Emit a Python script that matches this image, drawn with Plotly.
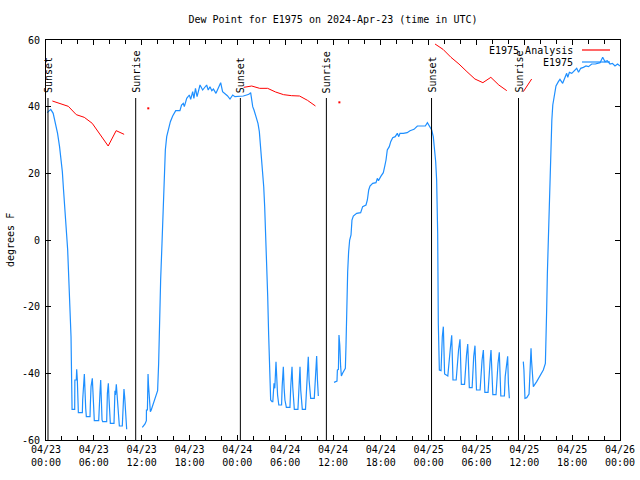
import plotly.graph_objects as go
import pandas as pd

BASE = pd.Timestamp("2024-04-23 00:00")

# ---------------- data (hours after 2024-04-23 00:00 UTC, deg F) ----------------
blue1_h = [0.15, 0.35, 0.6, 0.9, 1.2, 1.45, 1.7, 1.88, 2.05, 2.2, 2.38, 2.55, 2.72, 2.88, 3.05, 3.14,
           3.22, 3.27, 3.6, 3.62, 3.8, 3.85, 3.93, 4.0, 4.06, 4.56, 4.6, 4.81, 4.9, 4.98, 5.06, 5.52,
           5.56, 5.65, 5.81, 5.9, 5.98, 6.06, 6.61, 6.65, 6.78, 6.86, 6.95, 7.03, 7.11, 7.61, 7.7, 7.82,
           7.9, 8.0, 8.07, 8.53, 8.65, 8.72, 8.82, 8.9, 9.0, 9.1, 9.2, 9.57, 9.68, 9.78, 9.88, 9.98,
           10.05, 10.12]
blue1_v = [38.2, 38.8, 39.2, 38.0, 35.0, 32.0, 28.0, 24.0, 20.5, 15.0, 9.0, 3.0, -3.0, -13.0, -24.0, -29.0,
           -43.0, -50.8, -50.8, -42.0, -42.0, -38.8, -42.0, -48.5, -51.8, -51.8, -48.0, -40.2, -48.0, -50.5, -53.0, -53.0,
           -49.5, -44.0, -41.5, -48.5, -53.7, -54.2, -54.2, -50.5, -45.3, -42.0, -50.0, -54.0, -54.5, -54.5, -46.0, -43.0,
           -47.5, -51.8, -55.0, -55.0, -45.2, -46.5, -43.3, -46.5, -51.3, -53.0, -55.8, -55.8, -47.7, -44.7, -47.5, -53.8,
           -53.8, -56.8]

blue2_h = [12.08, 12.42, 12.59, 12.6, 12.72, 12.74, 12.8, 12.86, 12.96, 13.09, 13.2, 13.47, 13.76, 14.0, 14.13,
           14.25, 14.38, 14.55, 14.68, 14.8, 14.97, 15.14, 15.35, 15.6, 15.89, 16.27, 16.8, 17.0, 17.22, 17.35,
           17.65, 17.98, 18.15, 18.4, 18.55, 18.75, 18.95, 19.32, 19.65, 19.85, 20.15, 20.35, 20.57, 20.8, 21.0,
           21.32, 21.6, 21.91, 22.15, 22.45, 22.75, 23.08, 23.42, 23.7, 24.3, 24.75, 25.17, 25.45, 25.67, 25.8,
           25.93, 26.09, 26.34, 26.59, 26.76, 26.97, 27.14, 27.31, 27.43, 27.56, 27.68, 27.81, 27.93, 28.06, 28.18,
           28.35, 28.45, 28.6, 28.7, 28.85, 28.95, 29.05, 29.2, 29.55, 29.62, 29.77, 29.87, 29.97, 30.15, 30.6,
           30.7, 30.86, 30.95, 31.05, 31.15, 31.6, 31.7, 31.86, 31.95, 32.05, 32.15, 32.55, 32.7, 32.8, 32.9,
           33.0, 33.1, 33.2, 33.65, 33.75, 33.95, 34.05, 34.16]
blue2_v = [-56.2, -55.2, -54.2, -51.0, -51.0, -43.5, -40.2, -43.5, -48.5, -51.5, -51.0, -49.0, -47.5, -45.2, -37.0,
           -21.0, -12.0, -1.0, 9.0, 18.0, 27.0, 31.0, 33.5, 35.5, 37.2, 38.8, 38.8, 40.5, 41.0, 40.0,
           42.5, 43.5, 42.2, 44.5, 42.5, 45.5, 43.0, 46.5, 45.0, 45.5, 46.5, 45.0, 46.0, 44.8, 45.3,
           44.0, 45.5, 47.2, 44.5, 44.0, 43.3, 42.3, 43.5, 43.0, 43.0, 43.2, 43.5, 43.7, 44.2, 41.5,
           40.0, 39.0, 37.0, 35.0, 32.5, 27.0, 22.0, 16.0, 10.0, 2.0, -6.0, -17.0, -28.5, -41.0, -48.0,
           -48.5, -48.5, -43.0, -44.5, -36.5, -43.0, -46.5, -49.5, -49.5, -44.0, -38.0, -44.5, -48.0, -50.2, -50.2,
           -44.0, -38.0, -44.0, -48.5, -50.8, -50.8, -44.5, -38.0, -45.0, -49.0, -50.8, -50.8, -45.0, -40.0, -35.0,
           -42.0, -46.0, -47.5, -47.5, -42.0, -34.8, -42.0, -46.8]

blue3_h = [36.13, 36.5, 36.55, 36.68, 36.75, 36.85, 36.96, 37.05, 37.2, 37.38, 37.55, 37.63, 37.71, 37.84, 37.96,
           38.09, 38.26, 38.38, 38.55, 38.97, 39.47, 39.72, 40.14, 40.31, 40.48, 40.64, 40.98, 41.39, 41.56, 41.7,
           41.98, 42.31, 42.48, 42.65, 42.81, 43.06, 43.24, 43.49, 43.8, 44.07, 44.25, 44.4, 44.82, 45.3, 45.66,
           46.16, 46.58, 47.58, 47.84, 48.1, 48.38, 48.58, 48.75, 48.88, 49.0, 49.13, 49.21, 49.34, 49.55, 49.6,
           49.71, 49.84, 49.9, 50.0, 50.4, 50.5, 50.7, 50.89, 50.95, 51.05, 51.45, 51.6, 51.75, 51.93, 52.0,
           52.1, 52.5, 52.6, 52.75, 52.9, 52.98, 53.1, 53.45, 53.55, 53.65, 53.81, 53.9, 54.0, 54.45, 54.55,
           54.7, 54.86, 54.95, 55.05, 55.45, 55.55, 55.7, 55.82, 55.92, 56.05, 56.45, 56.55, 56.7, 56.86, 56.95,
           57.05, 57.5, 57.6, 57.75, 57.91, 58.0, 58.12]
blue3_v = [-42.7, -42.3, -39.0, -38.8, -28.5, -31.5, -38.0, -40.8, -40.0, -39.0, -38.5, -31.8, -19.0, -9.5, -3.5,
           0.0, 1.5, 6.0, 7.2, 8.0, 8.2, 10.0, 10.5, 12.0, 15.0, 16.2, 17.0, 17.2, 18.5, 17.8,
           19.0, 20.2, 22.0, 24.0, 27.0, 28.0, 29.5, 30.7, 31.0, 32.0, 31.0, 32.0, 32.0, 32.2, 32.8,
           33.2, 34.2, 34.2, 35.2, 34.2, 33.0, 31.0, 27.5, 23.5, 18.0, 2.0, -25.0, -39.0, -39.2, -35.5,
           -29.0, -26.0, -37.5, -40.2, -40.8, -37.5, -33.0, -28.6, -38.0, -42.0, -42.0, -37.0, -33.0, -29.8, -39.0,
           -43.3, -43.3, -38.0, -34.5, -31.2, -39.5, -44.3, -44.3, -38.5, -35.0, -31.7, -40.0, -45.0, -45.0, -40.0,
           -36.0, -33.0, -40.5, -45.7, -45.7, -40.0, -36.5, -33.0, -41.0, -46.4, -46.4, -40.5, -37.0, -33.7, -41.0,
           -46.8, -46.8, -41.0, -38.0, -34.9, -43.0, -47.5]

blue4_h = [59.87, 59.95, 60.08, 60.3, 60.59, 60.71, 60.84, 60.9, 60.97, 61.13, 61.55, 61.97, 62.38, 62.64, 62.72,
           62.8, 62.89, 63.0, 63.15, 63.28, 63.45, 63.57, 63.77, 63.97, 64.27, 64.47, 64.81, 65.1, 65.31, 65.45,
           65.65, 65.95, 66.28, 66.57, 66.8, 67.07, 67.4, 67.74, 68.05, 68.45, 68.9, 69.5, 69.83, 70.12, 70.4,
           70.75, 71.05, 71.37, 71.7, 72.0]
blue4_v = [-36.5, -39.0, -47.5, -47.3, -46.2, -40.0, -32.5, -36.0, -40.0, -44.0, -42.5, -40.8, -39.0, -37.0, -31.0,
           -21.0, -10.0, 0.0, 13.0, 27.0, 36.0, 40.5, 44.0, 46.2, 47.5, 48.2, 47.0, 49.0, 50.0, 48.8,
           50.3, 50.0, 50.8, 51.5, 50.3, 51.5, 51.8, 52.2, 52.0, 52.8, 52.8, 53.2, 54.8, 53.5, 53.8,
           52.8, 53.0, 52.2, 52.8, 52.2]

red1_h = [0.8, 1.8, 2.8, 3.8, 4.8, 5.8, 6.8, 7.8, 8.8, 9.8]
red1_v = [41.7, 41.0, 40.1, 37.6, 36.8, 35.0, 31.5, 28.2, 32.8, 31.7]
red2_h = [24.8, 25.8, 26.8, 27.8, 28.8, 29.8, 30.8, 31.8, 32.8, 33.8]
red2_v = [45.8, 46.2, 45.5, 45.5, 44.4, 43.6, 43.3, 43.2, 41.9, 40.2]
red3_h = [48.8, 49.8, 50.8, 51.8, 52.8, 53.8, 54.8, 55.8, 56.8, 57.8]
red3_v = [58.8, 57.2, 54.8, 52.8, 50.5, 48.3, 47.2, 48.8, 46.5, 44.8]
red4_h = [59.87, 60.92]
red4_v = [44.5, 48.3]
red_single_h = [12.83, 36.8]
red_single_v = [39.5, 41.3]

sun_event_h = [0.25, 11.25, 24.38, 35.17, 48.36, 59.27]
sun_event_labels = ["Sunset", "Sunrise", "Sunset", "Sunrise", "Sunset", "Sunrise"]

x_tick_h = [0, 6, 12, 18, 24, 30, 36, 42, 48, 54, 60, 66, 72]
x_tick_labels = ["04/23<br>00:00", "04/23<br>06:00", "04/23<br>12:00", "04/23<br>18:00",
                 "04/24<br>00:00", "04/24<br>06:00", "04/24<br>12:00", "04/24<br>18:00",
                 "04/25<br>00:00", "04/25<br>06:00", "04/25<br>12:00", "04/25<br>18:00",
                 "04/26<br>00:00"]
y_tick_vals = [-60, -40, -20, 0, 20, 40, 60]
y_tick_labels = ["-60", "-40", "-20", "0", "20", "40", "60"]

TITLE = "Dew Point for E1975 on 2024-Apr-23 (time in UTC)"
Y_TITLE = "degrees F"
LEG_RED = "E1975 Analysis"
LEG_BLUE = "E1975"


def to_time(hours):
    return [BASE + pd.Timedelta(hours=h) for h in hours]


def join(segments):
    xs, ys = [], []
    for h, v in segments:
        xs += to_time(h) + [None]
        ys += list(v) + [None]
    return xs, ys


FONT = "DejaVu Sans Mono"
FS = 10
BLUE = "#1e8fff"
RED = "#ff0000"
FIG_W, FIG_H = 640, 480

bx, by = join([(blue1_h, blue1_v), (blue2_h, blue2_v), (blue3_h, blue3_v), (blue4_h, blue4_v)])
rx, ry = join([(red1_h, red1_v), (red2_h, red2_v), (red3_h, red3_v), (red4_h, red4_v)])

fig = go.Figure()
fig.add_trace(go.Scatter(x=rx, y=ry, mode="lines", line=dict(color=RED, width=1), name=LEG_RED))
fig.add_trace(go.Scatter(x=to_time(red_single_h), y=red_single_v, mode="markers",
                         marker=dict(color=RED, size=2, symbol="square"), name=LEG_RED))
fig.add_trace(go.Scatter(x=bx, y=by, mode="lines", line=dict(color=BLUE, width=1.2), name=LEG_BLUE))

shapes = []
annotations = []
for t, lab in zip(to_time(sun_event_h), sun_event_labels):
    shapes.append(dict(type="line", xref="x", yref="paper", x0=t, x1=t, y0=0, y1=0.855,
                       line=dict(color="black", width=1)))
    annotations.append(dict(x=t, y=0.865, xref="x", yref="paper", text=lab, textangle=-90,
                            showarrow=False, xanchor="center", yanchor="bottom",
                            font=dict(family=FONT, size=FS, color="black"), borderpad=0))

# manual gnuplot-style legend (text left, sample right)
for txt, col, yp in [(LEG_RED, RED, 0.975), (LEG_BLUE, BLUE, 0.945)]:
    annotations.append(dict(x=0.9199, y=yp, xref="paper", yref="paper", text=txt, showarrow=False,
                            xanchor="right", yanchor="middle",
                            font=dict(family=FONT, size=FS, color="black"), borderpad=0))
    shapes.append(dict(type="line", xref="paper", yref="paper", x0=0.9338, x1=0.9826, y0=yp, y1=yp,
                       line=dict(color=col, width=1.2)))

annotations.append(dict(x=-0.0627, y=0.5, xref="paper", yref="paper", text=Y_TITLE, textangle=-90,
                        showarrow=False, xanchor="center", yanchor="middle",
                        font=dict(family=FONT, size=FS, color="black")))

fig.update_layout(
    width=FIG_W, height=FIG_H,
    margin=dict(l=46, r=20, t=40, b=40, autoexpand=False),
    paper_bgcolor="white", plot_bgcolor="white",
    showlegend=False, hovermode=False,
    title=dict(text=TITLE, x=0.5, xref="paper", y=1 - 19 / FIG_H, yref="container",
               xanchor="center", yanchor="middle", font=dict(family=FONT, size=FS, color="black")),
    shapes=shapes, annotations=annotations,
    font=dict(family=FONT, size=FS, color="black"),
)
fig.update_xaxes(
    type="date", range=[BASE, BASE + pd.Timedelta(hours=72)], automargin=False,
    tickvals=to_time(x_tick_h), ticktext=x_tick_labels,
    ticks="inside", ticklen=5, tickcolor="black", showline=True, linecolor="black", linewidth=1,
    mirror="ticks", showgrid=False, zeroline=False,
    minor=dict(dtick=2 * 3600 * 1000, tick0=BASE, ticks="inside", ticklen=4, tickcolor="black", showgrid=False),
    tickfont=dict(family=FONT, size=FS, color="black"),
)
fig.update_yaxes(
    range=[-60, 60], tickvals=y_tick_vals, ticktext=y_tick_labels, automargin=False,
    ticks="inside", ticklen=5, tickcolor="black", showline=True, linecolor="black", linewidth=1,
    mirror="ticks", showgrid=False, zeroline=False,
    tickfont=dict(family=FONT, size=FS, color="black"), ticklabelstandoff=3,
)

# remove the page's default body margin so the 640x480 figure fills the window exactly
fig.write_html("out.html", config={"displayModeBar": False, "staticPlot": True},
               post_script="document.body.style.margin='0';document.body.style.padding='0';")
